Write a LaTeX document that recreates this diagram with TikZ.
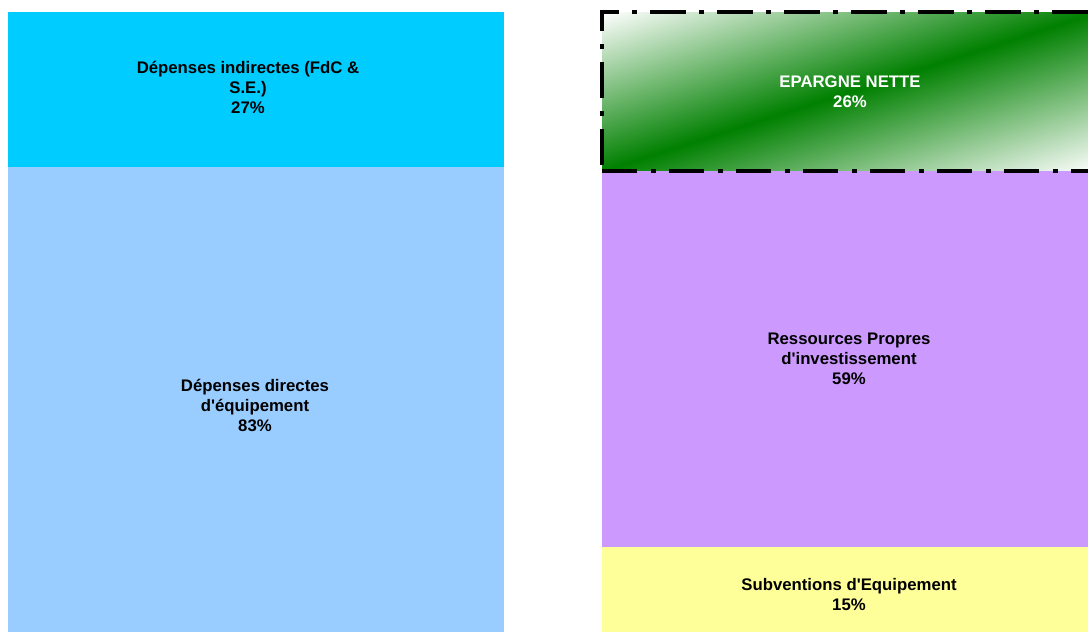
\documentclass[tikz,border=0pt]{standalone}
\usepackage{fontspec}
\setmainfont{Liberation Sans}
\definecolor{cyanbox}{HTML}{00CCFF}
\definecolor{bluebox}{HTML}{99CCFF}
\definecolor{purplebox}{HTML}{CC99FF}
\definecolor{yellowbox}{HTML}{FFFF99}
\definecolor{greenband}{HTML}{008000}
\tikzset{
  lbl/.style={font=\bfseries\fontsize{16.75}{20}\selectfont, align=center, inner sep=0pt},
  border/.style={line width=4pt, line cap=butt, black},
}
\begin{document}
\begin{tikzpicture}[x=1pt,y=-1pt]
\useasboundingbox (0,0) rectangle (1088,632);
\clip (0,0) rectangle (1088,632);
% left column
\fill[cyanbox] (8,12) rectangle (504,167);
\fill[bluebox] (8,167) rectangle (504,632);
% right column
\begin{scope}
  \clip (602,12) rectangle (1098,171);
  \shade[transform canvas={shift={(850,91.5)}, rotate=17.8}, top color=white, bottom color=white, middle color=greenband] (-400,-151.4) rectangle (400,151.4);
\end{scope}
\fill[purplebox] (602,171) rectangle (1098,547);
\fill[yellowbox] (602,547) rectangle (1098,640);
% dash-dot border
\draw[border, dash pattern=on 36pt off 13pt on 5pt off 13pt, dash phase=61pt] (602,171) -- (602,12) -- (1098,12) -- (1098,171);
\draw[border, dash pattern=on 35pt off 14pt on 5pt off 13pt] (602,171) -- (1098,171);
% labels
\node[lbl] (ind) at (248,87) {Dépenses indirectes (FdC \&\\S.E.)\\27\%};
\node[lbl] (dir) at (255,405) {Dépenses directes\\d\textquotesingle équipement\\83\%};
\node[lbl, white] (ep) at (850,92) {EPARGNE NETTE\\26\%};
\node[lbl] (rp) at (849,359) {Ressources Propres\\d\textquotesingle investissement\\59\%};
\node[lbl] (sub) at (849,595) {Subventions d\textquotesingle Equipement\\15\%};
\end{tikzpicture}
\end{document}
